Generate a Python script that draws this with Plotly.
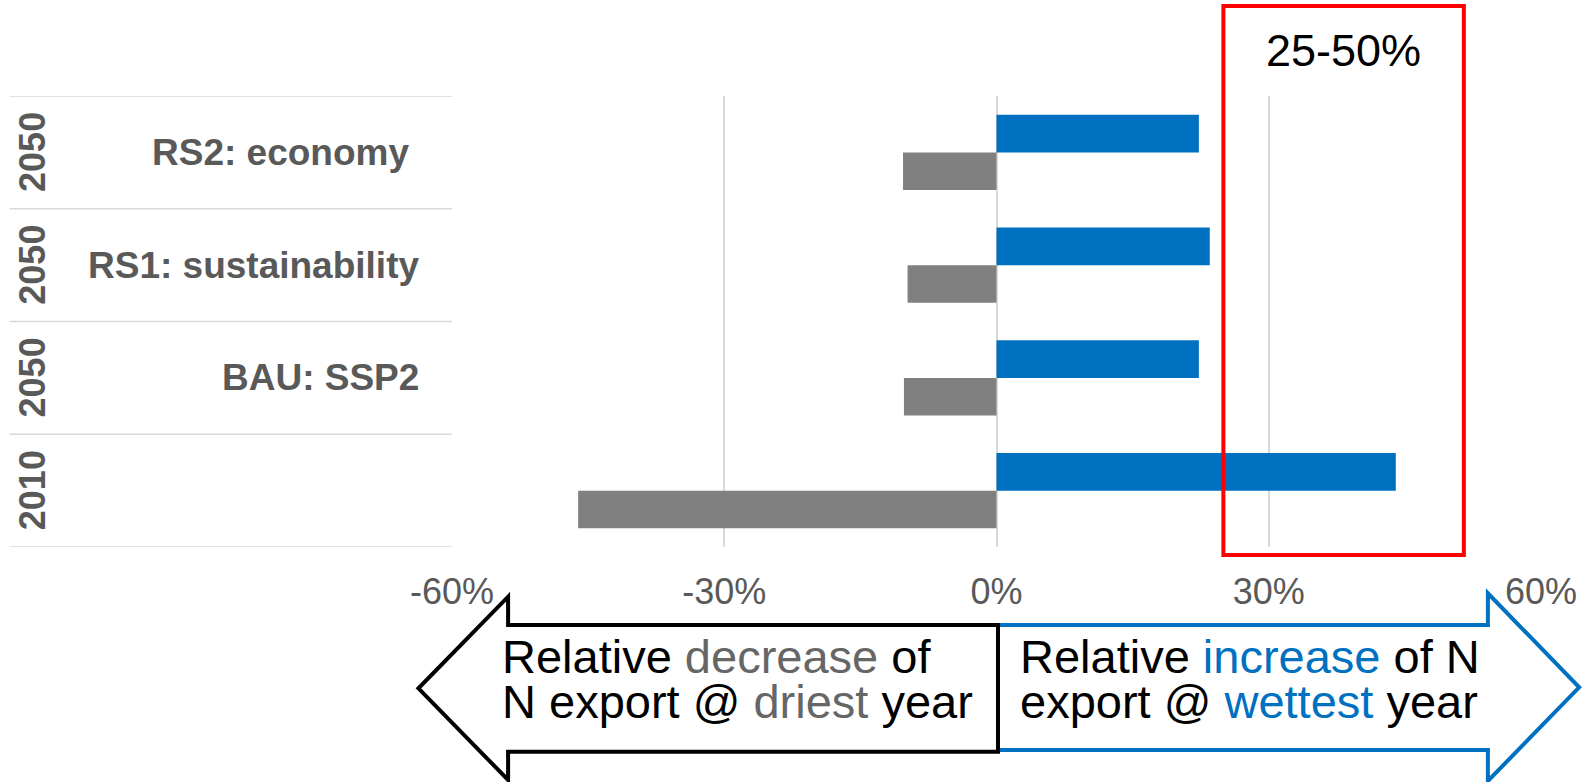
import plotly.graph_objects as go

# ---- data ----
categories = ["2010", "BAU: SSP2", "RS1: sustainability", "RS2: economy"]
years = ["2010", "2050", "2050", "2050"]
scenario_labels = ["", "BAU: SSP2", "RS1: sustainability", "RS2: economy\u00a0"]
wettest_increase = [44.0, 22.3, 23.5, 22.3]
driest_decrease = [-46.1, -10.2, -9.8, -10.3]
tick_vals = [-60, -30, 0, 30, 60]
tick_text = ["-60%", "-30%", "0%", "30%", "60%"]
highlight_range = [25, 51.5]
highlight_label = "25-50%"

# ---- layout constants (pixels) ----
W, H = 1589, 782
L, R, T, B = 452, 1545, 96, 547
FONT = "Liberation Sans, Arial, sans-serif"
GRAY_TXT = "#595959"
BLUE = "#0070C0"
GRAY_BAR = "#808080"


def px(x):
    return (x - L) / (R - L)


def py(y):
    return (B - y) / (B - T)


ypos = list(range(len(categories)))

fig = go.Figure()
fig.add_trace(go.Bar(
    y=ypos, x=wettest_increase, orientation="h", width=1/3, offset=0,
    marker=dict(color=BLUE, line=dict(width=0)), name="wettest", showlegend=False,
))
fig.add_trace(go.Bar(
    y=ypos, x=driest_decrease, orientation="h", width=1/3, offset=-1/3,
    marker=dict(color=GRAY_BAR, line=dict(width=0)), name="driest", showlegend=False,
))

shapes = []
# table lines on the left
for b in [i - 0.5 for i in range(len(categories) + 1)]:
    shapes.append(dict(type="line", xref="paper", yref="y", x0=px(8), x1=0, y0=b, y1=b,
                       line=dict(color="#D9D9D9", width=1.5), layer="below"))

# red highlight box
shapes.append(dict(type="rect", xref="x", yref="paper",
                   x0=highlight_range[0], x1=highlight_range[1], y0=py(555), y1=py(6),
                   line=dict(color="#FF0000", width=4), fillcolor="rgba(0,0,0,0)", layer="above"))


def path(points):
    s = "M " + " L ".join(f"{px(x):.5f},{py(y):.5f}" for x, y in points) + " Z"
    return s


right_arrow = [(1000, 625), (1491.7, 625), (1491.7, 593.3), (1583.3, 687.3),
               (1491.7, 781), (1491.7, 750), (1000, 750)]
left_arrow = [(1000, 625), (508.3, 625), (508.3, 596.7), (418.3, 688.3),
              (508.3, 780), (508.3, 751.7), (1000, 751.7)]
shapes.append(dict(type="path", xref="paper", yref="paper", path=path(right_arrow),
                   line=dict(color=BLUE, width=4), fillcolor="white", layer="above"))
shapes.append(dict(type="path", xref="paper", yref="paper", path=path(left_arrow),
                   line=dict(color="#000000", width=4), fillcolor="white", layer="above"))

annotations = []
for i, (yr, lab) in enumerate(zip(years, scenario_labels)):
    annotations.append(dict(text=f"<b>{yr}</b>", xref="paper", yref="y", x=px(31), y=i,
                            textangle=-90, showarrow=False, xanchor="center", yanchor="middle",
                            font=dict(family=FONT, size=36, color=GRAY_TXT)))
    if lab:
        annotations.append(dict(text=f"<b>{lab}</b>", xref="paper", yref="y", x=px(421), y=i,
                                showarrow=False, xanchor="right", yanchor="middle",
                                font=dict(family=FONT, size=37, color=GRAY_TXT)))

annotations.append(dict(text=highlight_label, xref="x", yref="paper",
                        x=sum(highlight_range) / 2, y=py(51), showarrow=False,
                        xanchor="center", yanchor="middle",
                        font=dict(family="Liberation Sans Narrow, Arial Narrow, " + FONT,
                                  size=45, color="#000000")))

gt = "<span style='color:#666666'>{}</span>"
bt = "<span style='color:" + BLUE + "'>{}</span>"
arrow_lines = [
    (500, 656, "Relative " + gt.format("decrease") + " of"),
    (500, 701, "N export @ " + gt.format("driest") + " year"),
    (1020, 656, "Relative " + bt.format("increase") + " of N"),
    (1020, 701, "export @ " + bt.format("wettest") + " year"),
]
for x, y, t in arrow_lines:
    annotations.append(dict(text=t, xref="paper", yref="paper", x=px(x), y=py(y),
                            showarrow=False, xanchor="left", yanchor="middle",
                            font=dict(family=FONT, size=47, color="#000000")))

fig.update_layout(
    width=W, height=H,
    margin=dict(l=L, r=W - R, t=T, b=H - B, pad=0),
    paper_bgcolor="white", plot_bgcolor="white",
    barmode="overlay",
    shapes=shapes, annotations=annotations,
    xaxis=dict(range=[-60, 60], tickvals=tick_vals, ticktext=tick_text,
               showgrid=True, gridcolor="#D9D9D9", gridwidth=1.5, zeroline=False,
               showline=False, ticks="", ticklabelstandoff=20,
               tickfont=dict(family=FONT, size=36, color=GRAY_TXT), fixedrange=True),
    yaxis=dict(range=[-0.5, len(categories) - 0.5], showticklabels=False, showgrid=False,
               zeroline=False, showline=False, ticks="", fixedrange=True),
)

fig.write_html("out.html")
